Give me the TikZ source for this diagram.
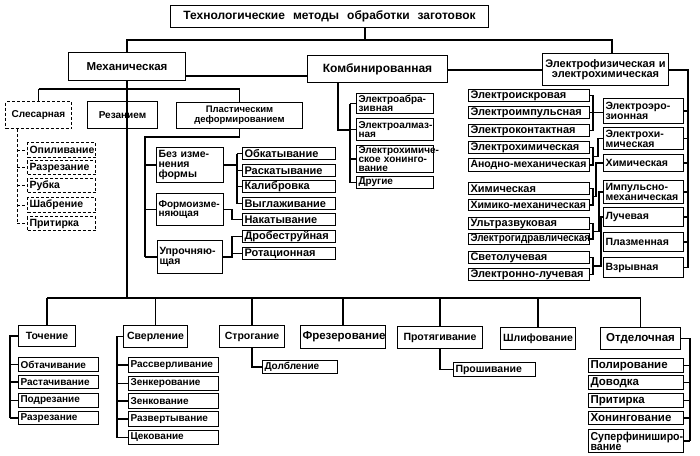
\documentclass[tikz,border=0pt]{standalone}
\usepackage{fontspec}
\setmainfont{Liberation Sans}
\usetikzlibrary{calc}
\tikzset{
 s9/.style={font=\fontsize{9.5}{10}\selectfont\bfseries},
 s10/.style={font=\fontsize{10}{9.5}\selectfont\bfseries},
 s105/.style={font=\fontsize{10.5}{10}\selectfont\bfseries},
 s11/.style={font=\fontsize{11}{10.5}\selectfont\bfseries},
 s115/.style={font=\fontsize{11.5}{11}\selectfont\bfseries},
 s12/.style={font=\fontsize{12}{12}\selectfont\bfseries},
 cmp/.style={font=\fontsize{11}{10}\selectfont\bfseries\addfontfeature{FakeStretch=0.9}},
 cmb/.style={font=\fontsize{10}{8.8}\selectfont\bfseries},
 csup/.style={font=\fontsize{11.5}{10}\selectfont\bfseries\addfontfeature{FakeStretch=0.92}},
 bx/.style={draw, line width=1pt, anchor=north west, inner xsep=2pt, inner ysep=0pt,
   s105, align=left},
 dbx/.style={dash pattern=on 3pt off 2pt},
 ctr/.style={align=center},
 ln/.style={line width=1.3pt},
 dln/.style={line width=0.9pt, dash pattern=on 3pt off 2pt},
}
\newcommand\ml[1]{\mbox{#1}}
\newcommand\mybox[7][]{%
 \pgfmathsetmacro\bxw{#4-#2}\pgfmathsetmacro\bxh{#5-#3}\pgfmathsetmacro\bxt{#4-#2-4}%
 \node[bx,minimum width=\bxw pt,minimum height=\bxh pt,text width=\bxt pt,#1] (#6) at (#2,#3) {#7};}
\begin{document}
\begin{tikzpicture}[x=1pt,y=-1pt]
\useasboundingbox (0,0) rectangle (700,455);
% top level
\mybox[ctr,s12]{170}{5}{488}{27}{title}{Технологические\ \ методы\ \ обработки\ \ заготовок}
\mybox[ctr,s115]{68}{52}{185}{80}{mech}{Механическая}
\mybox[ctr,s12]{307}{55}{447}{82}{comb}{Комбинированная}
\mybox[ctr,s11]{542}{53}{668}{85}{elph}{\ml{Электрофизическая и}\\\ml{электрохимическая}}
% mechanical
\mybox[ctr,dbx,s10]{5}{101}{71}{128}{sles}{Слесарная}
\mybox[ctr,s10]{87}{101}{157}{128}{rez}{Резанием}
\mybox[ctr,s9]{176}{102}{302}{128}{plast}{Пластическим\\деформированием}
\mybox[dbx]{27}{142}{95}{157}{opil}{Опиливание}
\mybox[dbx]{27}{160}{95}{174}{razr1}{Разрезание}
\mybox[dbx]{27}{178}{95}{192}{rub}{Рубка}
\mybox[dbx]{27}{197}{95}{212}{shab}{Шабрение}
\mybox[dbx]{27}{216}{95}{230}{prit1}{Притирка}
\mybox{156}{147}{223}{182}{bez}{\ml{Без изме-}\\нения\\формы}
\mybox[s10]{156}{193}{223}{225}{form}{\ml{Формоизме-}\\няющая}
\mybox{157}{240}{222}{273}{upr}{\ml{Упрочняю-}\\щая}
\mybox[s11]{242}{147}{335}{159}{obk}{Обкатывание}
\mybox[s11]{242}{164}{335}{176}{rask}{Раскатывание}
\mybox[s11]{242}{180}{335}{192}{kal}{Калибровка}
\mybox[s11]{242}{197}{335}{209}{vygl}{Выглаживание}
\mybox[s11]{242}{213}{335}{225}{nak}{Накатывание}
\mybox[s11]{242}{230}{335}{242}{drob}{Дробеструйная}
\mybox[s11]{242}{247}{335}{259}{rot}{Ротационная}
% combined
\mybox[cmb]{356}{93}{433}{113}{ea}{\ml{Электроабра-}\\зивная}
\mybox[cmb]{356}{118}{433}{140}{eal}{\ml{Электроалмаз-}\\ная}
\mybox[cmb]{356}{145}{433}{172}{ehh}{\ml{Электрохимиче-}\\\ml{ское хонинго-}\\вание}
\mybox[cmb]{356}{176}{433}{188}{dr}{Другие}
% electro left
\mybox[s11]{468}{89}{589}{101}{isk}{Электроискровая}
\mybox[s11]{468}{106}{589}{118}{imp}{Электроимпульсная}
\mybox[s11]{468}{124}{589}{136}{kont}{Электроконтактная}
\mybox[s11]{468}{141}{589}{153}{ehl}{Электрохимическая}
\mybox[s105]{468}{158}{589}{171}{anod}{Анодно-механическая}
\mybox[s11]{468}{182}{589}{194}{him}{Химическая}
\mybox[s105]{468}{199}{589}{210}{hm}{Химико-механическая}
\mybox[s11]{468}{217}{589}{229}{uz}{Ультразвуковая}
\mybox[cmp]{468}{233}{589}{244}{eg}{Электрогидравлическая}
\mybox[s11]{468}{251}{589}{263}{svet}{Светолучевая}
\mybox[s11]{468}{268}{589}{280}{el}{Электронно-лучевая}
% electro right
\mybox{603}{98}{683}{123}{ero}{\ml{Электроэро-}\\зионная}
\mybox{603}{127}{683}{149}{ehr}{\ml{Электрохи-}\\мическая}
\mybox{603}{154}{683}{171}{himr}{Химическая}
\mybox{603}{180}{683}{203}{imr}{\ml{Импульсно-}\\механическая}
\mybox{603}{207}{683}{226}{luch}{Лучевая}
\mybox{603}{232}{683}{251}{plaz}{Плазменная}
\mybox{603}{257}{683}{277}{vzr}{Взрывная}
% bottom row
\mybox[ctr]{18}{325}{75}{346}{toch}{Точение}
\mybox[ctr]{123}{325}{187}{347}{sver}{Сверление}
\mybox[ctr]{219}{325}{284}{347}{strog}{Строгание}
\mybox[ctr,s115]{300}{325}{385}{348}{frez}{Фрезерование}
\mybox[ctr]{397}{326}{482}{348}{prot}{Протягивание}
\mybox[ctr]{500}{327}{575}{349}{shl}{Шлифование}
\mybox[ctr,s115]{600}{327}{680}{349}{otd}{Отделочная}
\mybox[s10]{18}{357}{98}{371}{obt}{Обтачивание}
\mybox[s10]{18}{375}{98}{388}{rast}{Растачивание}
\mybox[s10]{18}{393}{98}{407}{podr}{Подрезание}
\mybox[s10]{18}{411}{98}{424}{razr2}{Разрезание}
\mybox[s10]{128}{357}{218}{372}{rass}{Рассверливание}
\mybox[s10]{128}{376}{218}{390}{zenk}{Зенкерование}
\mybox[s10]{128}{393}{218}{408}{zenkov}{Зенкование}
\mybox[s10]{128}{411}{218}{426}{razv}{Развертывание}
\mybox[s10]{128}{430}{218}{444}{cek}{Цекование}
\mybox[s10]{262}{360}{337}{373}{dolb}{Долбление}
\mybox{453}{362}{535}{376}{prosh}{Прошивание}
\mybox[s115]{588}{358}{683}{372}{pol}{Полирование}
\mybox[s115]{588}{375}{683}{389}{dov}{Доводка}
\mybox[s115]{588}{393}{683}{407}{prit2}{Притирка}
\mybox[s115]{588}{411}{683}{424}{hon}{Хонингование}
\mybox[csup]{588}{429}{683}{452}{sup}{\ml{Суперфиниширо-}\\вание}
% ---- connectors ----
\coordinate (tj) at (365,40);
\coordinate (ej) at (612,40);
\draw[ln] (title.south -| tj) -- (tj);
\draw[ln] (mech.north) |- (ej) -- (ej |- elph.north);
\coordinate (y76) at (0,76);
\coordinate (y70) at (0,70);
\draw[ln] (mech.east |- y76) -- (comb.west |- y76);
\draw[ln] (comb.east |- y70) -- (elph.west |- y70);
% right vertical
\coordinate (rv) at (688,70);
\draw[ln] (elph.east |- rv) -- (rv) -- (rv |- vzr.east);
\foreach \n in {ero,ehr,himr,imr,luch,plaz,vzr}{\draw[ln] (\n.east) -- (\n.east -| rv);}
% mechanical
\coordinate (mj) at (0,89);
\draw[ln] (mech.south) -- (mech.south |- mj);
\draw[ln] (sles.north |- mj) -- (plast.north |- mj);
\draw[ln] (sles.north |- mj) -- (sles.north);
\draw[ln] (plast.north |- mj) -- (plast.north);
\coordinate (bj) at (0,298);
\draw[ln] (mech.south |- mj) -- (mech.south |- bj);
% slesarnaya
\coordinate (sv) at (17,0);
\draw[dln] (sles.south -| sv) -- (sv |- prit1.west);
\foreach \n in {opil,razr1,rub,shab,prit1}{\draw[dln] (\n.west -| sv) -- (\n.west);}
% plastic
\coordinate (pv) at (145,137);
\draw[ln] (plast.south) |- (pv) -- (pv |- upr.west);
\foreach \n in {bez,form,upr}{\draw[ln] (\n.west -| pv) -- (\n.west);}
\coordinate (bv) at (237,0);
\coordinate (fv) at (232,0);
\draw[ln] (bez.east) -- (bez.east -| bv);
\draw[ln] (obk.west -| bv) -- (vygl.west -| bv);
\foreach \n in {obk,rask,kal,vygl}{\draw[ln] (\n.west -| bv) -- (\n.west);}
\draw[ln] (form.east) -- (form.east -| fv) |- (nak.west);
\draw[ln] (drob.west) -| (fv |- upr.east) -- (upr.east);
\draw[ln] (rot.west) -- (rot.west -| fv);
% combined
\coordinate (cv) at (338,130);
\coordinate (cb) at (350,0);
\draw[ln] (comb.south -| cv) -- (cv) -- (cv -| cb);
\draw[ln] (ea.west -| cb) -- (dr.west -| cb);
\foreach \n in {ea,eal,ehh,dr}{\draw[ln] (\n.west -| cb) -- (\n.west);}
% electro groups
\coordinate (gx) at (593,0);
\draw[ln] (isk.east) -- (isk.east -| gx) -- (kont.east -| gx) -- (kont.east);
\draw[ln] (imp.east) -- (imp.east -| ero.west);
\draw[ln] (ehl.east) -- (ehl.east -| gx) -- (anod.east -| gx) -- (anod.east);
\draw[ln] ($(ehl.east -| gx)!.5!(anod.east -| gx)$) -| (598,0 |- ehr.west) -- (ehr.west);
\draw[ln] (him.east) -- (him.east -| gx) -- (hm.east -| gx) -- (hm.east);
\draw[ln] ($(him.east -| gx)!.5!(hm.east -| gx)$) -| (596,0 |- himr.west) -- (himr.west);
\draw[ln] (uz.east) -- (uz.east -| gx) -- (eg.east -| gx) -- (eg.east);
\draw[ln] ($(uz.east -| gx)!.5!(eg.east -| gx)$) -| (599,0 |- imr.west) -- (imr.west);
\draw[ln] (svet.east) -- (svet.east -| gx) -- (el.east -| gx) -- (el.east);
\draw[ln] ($(svet.east -| gx)!.5!(el.east -| gx)$) -| (601,0 |- luch.west) -- (luch.west);
% bottom row
\draw[ln] (toch.north |- bj) -- (otd.north |- bj);
\foreach \n in {toch,sver,strog,frez,prot,shl,otd}{\draw[ln] (\n.north |- bj) -- (\n.north);}
\coordinate (tv) at (10,0);
\draw[ln] (toch.west) -- (toch.west -| tv) -- (tv |- razr2.west);
\foreach \n in {obt,rast,podr,razr2}{\draw[ln] (\n.west -| tv) -- (\n.west);}
\coordinate (svv) at (117,0);
\draw[ln] (sver.west) -- (sver.west -| svv) -- (svv |- cek.west);
\foreach \n in {rass,zenk,zenkov,razv,cek}{\draw[ln] (\n.west -| svv) -- (\n.west);}
\draw[ln] (strog.south) |- (dolb.west);
\draw[ln] (prot.south) |- (prosh.west);
\coordinate (ov) at (690,0);
\draw[ln] (otd.east) -- (otd.east -| ov) -- (ov |- sup.east);
\foreach \n in {pol,dov,prit2,hon,sup}{\draw[ln] (\n.east) -- (\n.east -| ov);}
\end{tikzpicture}
\end{document}
